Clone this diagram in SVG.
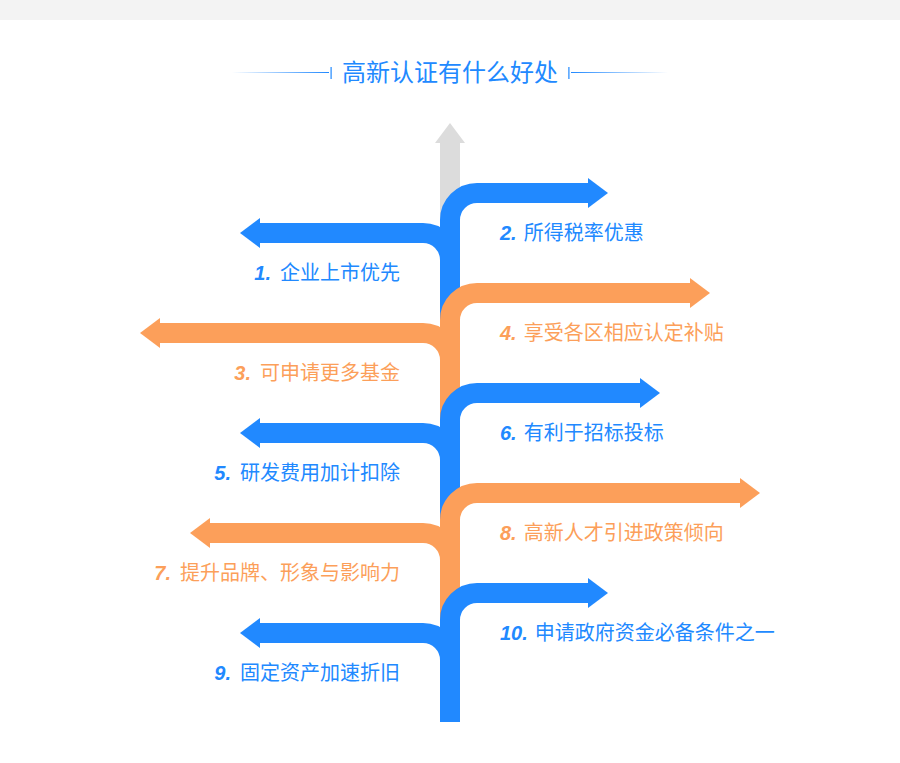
<svg xmlns="http://www.w3.org/2000/svg" width="900" height="763" viewBox="0 0 900 763">
<defs>
<style>
.b{stroke:#2189ff;fill:none;stroke-width:20}
.o{stroke:#fc9f5a;fill:none;stroke-width:20}
.bh{fill:#2189ff}
.oh{fill:#fc9f5a}
.bt{fill:#2189ff}
.ot{fill:#fc9f5a}
.lbl{font-family:"Noto Sans CJK SC","Noto Sans",sans-serif;font-size:20px}
.num{font-family:"Liberation Sans",Arial,sans-serif;font-weight:bold;font-style:italic;font-size:20px}
.title{font-family:"Noto Sans CJK SC","Noto Sans",sans-serif;font-size:24px;fill:#2189ff}
</style>
<linearGradient id="gl" x1="0" x2="1" y1="0" y2="0">
<stop offset="0" stop-color="#2189ff" stop-opacity="0"/>
<stop offset="1" stop-color="#2189ff" stop-opacity="1"/>
</linearGradient>
<linearGradient id="gr" x1="0" x2="1" y1="0" y2="0">
<stop offset="0" stop-color="#2189ff" stop-opacity="1"/>
<stop offset="1" stop-color="#2189ff" stop-opacity="0"/>
</linearGradient>
</defs>
<rect x="0" y="0" width="900" height="763" fill="#ffffff"/>
<rect x="0" y="0" width="900" height="20" fill="#f3f3f3"/>
<g id="title">
<rect x="232" y="72" width="97" height="1" fill="url(#gl)"/>
<rect x="330.5" y="67" width="1.2" height="12" fill="#2189ff"/>
<rect x="568.3" y="67" width="1.2" height="12" fill="#2189ff"/>
<rect x="571" y="72" width="97" height="1" fill="url(#gr)"/>
<text class="title" x="450" y="81" text-anchor="middle">高新认证有什么好处</text>
</g>
<g id="top">
<rect x="440" y="142" width="20" height="90" fill="#dcdcdc"/>
<polygon points="435,143 450,123 465,143" fill="#dcdcdc"/>
</g>
<g id="connectors">
<g id="item1">
<path class="b" d="M450 722 V260 A27 27 0 0 0 423 233 H259"/>
<polygon class="bh" points="260,218 240,233 260,248"/>
<text class="lbl bt" x="400" y="280" text-anchor="end"><tspan class="num">1.</tspan><tspan dx="9">企业上市优先</tspan></text>
</g>
<g id="item2">
<path class="b" d="M450 722 V220 A27 27 0 0 1 477 193 H589"/>
<polygon class="bh" points="588,178 608,193 588,208"/>
<text class="lbl bt" x="500" y="240"><tspan class="num">2.</tspan><tspan dx="7">所得税率优惠</tspan></text>
</g>
<g id="item3">
<path class="o" d="M450 722 V360 A27 27 0 0 0 423 333 H159"/>
<polygon class="oh" points="160,318 140,333 160,348"/>
<text class="lbl ot" x="400" y="380" text-anchor="end"><tspan class="num">3.</tspan><tspan dx="9">可申请更多基金</tspan></text>
</g>
<g id="item4">
<path class="o" d="M450 722 V320 A27 27 0 0 1 477 293 H691"/>
<polygon class="oh" points="690,278 710,293 690,308"/>
<text class="lbl ot" x="500" y="340"><tspan class="num">4.</tspan><tspan dx="7">享受各区相应认定补贴</tspan></text>
</g>
<g id="item5">
<path class="b" d="M450 722 V460 A27 27 0 0 0 423 433 H259"/>
<polygon class="bh" points="260,418 240,433 260,448"/>
<text class="lbl bt" x="400" y="480" text-anchor="end"><tspan class="num">5.</tspan><tspan dx="9">研发费用加计扣除</tspan></text>
</g>
<g id="item6">
<path class="b" d="M450 722 V420 A27 27 0 0 1 477 393 H641"/>
<polygon class="bh" points="640,378 660,393 640,408"/>
<text class="lbl bt" x="500" y="440"><tspan class="num">6.</tspan><tspan dx="7">有利于招标投标</tspan></text>
</g>
<g id="item7">
<path class="o" d="M450 722 V560 A27 27 0 0 0 423 533 H209"/>
<polygon class="oh" points="210,518 190,533 210,548"/>
<text class="lbl ot" x="400" y="580" text-anchor="end"><tspan class="num">7.</tspan><tspan dx="9">提升品牌、形象与影响力</tspan></text>
</g>
<g id="item8">
<path class="o" d="M450 722 V520 A27 27 0 0 1 477 493 H741"/>
<polygon class="oh" points="740,478 760,493 740,508"/>
<text class="lbl ot" x="500" y="540"><tspan class="num">8.</tspan><tspan dx="7">高新人才引进政策倾向</tspan></text>
</g>
<g id="item9">
<path class="b" d="M450 722 V660 A27 27 0 0 0 423 633 H259"/>
<polygon class="bh" points="260,618 240,633 260,648"/>
<text class="lbl bt" x="400" y="680" text-anchor="end"><tspan class="num">9.</tspan><tspan dx="9">固定资产加速折旧</tspan></text>
</g>
<g id="item10">
<path class="b" d="M450 722 V620 A27 27 0 0 1 477 593 H589"/>
<polygon class="bh" points="588,578 608,593 588,608"/>
<text class="lbl bt" x="500" y="640"><tspan class="num">10.</tspan><tspan dx="7">申请政府资金必备条件之一</tspan></text>
</g>
</g>
</svg>
